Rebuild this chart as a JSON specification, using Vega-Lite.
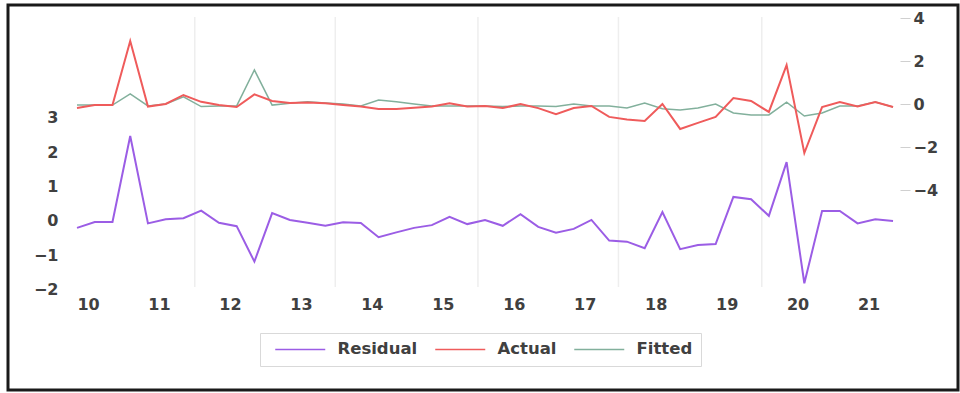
{
  "$schema": "https://vega.github.io/schema/vega-lite/v6.json",
  "width": 950,
  "height": 385,
  "autosize": {"type": "none"},
  "padding": {"left": 8, "top": 5, "right": 2, "bottom": 3},
  "background": "white",
  "config": {
    "view": {"stroke": "#1a1a1a", "strokeWidth": 3},
    "axis": {"labelFont": "DejaVu Sans", "labelFontWeight": "bold", "labelColor": "#404040", "labelFontSize": 16, "grid": false, "domain": false, "title": null},
    "legend": {"orient": "none", "legendX": 252, "legendY": 328, "direction": "horizontal", "strokeColor": "#d9d9d9", "padding": 8, "symbolType": "M-0.2,0H9.8", "symbolSize": 100, "symbolStrokeWidth": 1.5, "labelFont": "DejaVu Sans", "labelFontSize": 16.5, "labelFontWeight": "bold", "labelColor": "#404040", "columnPadding": 10, "labelOffset": 53}
  },
  "data": {"values": [
    {"t": 2010.00, "resid": -0.20, "actual": -0.19, "fitted": -0.05},
    {"t": 2010.25, "resid": -0.03, "actual": -0.05, "fitted": -0.05},
    {"t": 2010.50, "resid": -0.03, "actual": -0.05, "fitted": -0.05},
    {"t": 2010.75, "resid": 2.47, "actual": 2.93, "fitted": 0.47},
    {"t": 2011.00, "resid": -0.07, "actual": -0.12, "fitted": -0.09},
    {"t": 2011.25, "resid": 0.05, "actual": 0.00, "fitted": 0.00},
    {"t": 2011.50, "resid": 0.08, "actual": 0.42, "fitted": 0.33},
    {"t": 2011.75, "resid": 0.30, "actual": 0.10, "fitted": -0.12},
    {"t": 2012.00, "resid": -0.05, "actual": -0.05, "fitted": -0.09},
    {"t": 2012.25, "resid": -0.15, "actual": -0.14, "fitted": -0.09},
    {"t": 2012.50, "resid": -1.18, "actual": 0.45, "fitted": 1.58},
    {"t": 2012.75, "resid": 0.23, "actual": 0.14, "fitted": -0.05},
    {"t": 2013.00, "resid": 0.03, "actual": 0.05, "fitted": 0.03},
    {"t": 2013.25, "resid": -0.05, "actual": 0.07, "fitted": 0.10},
    {"t": 2013.50, "resid": -0.14, "actual": 0.03, "fitted": 0.05},
    {"t": 2013.75, "resid": -0.04, "actual": -0.05, "fitted": 0.00},
    {"t": 2014.00, "resid": -0.06, "actual": -0.12, "fitted": -0.09},
    {"t": 2014.25, "resid": -0.47, "actual": -0.23, "fitted": 0.19},
    {"t": 2014.50, "resid": -0.33, "actual": -0.23, "fitted": 0.10},
    {"t": 2014.75, "resid": -0.20, "actual": -0.17, "fitted": 0.00},
    {"t": 2015.00, "resid": -0.12, "actual": -0.12, "fitted": -0.09},
    {"t": 2015.25, "resid": 0.12, "actual": 0.03, "fitted": -0.09},
    {"t": 2015.50, "resid": -0.09, "actual": -0.12, "fitted": -0.09},
    {"t": 2015.75, "resid": 0.03, "actual": -0.09, "fitted": -0.09},
    {"t": 2016.00, "resid": -0.14, "actual": -0.19, "fitted": -0.12},
    {"t": 2016.25, "resid": 0.20, "actual": 0.00, "fitted": -0.09},
    {"t": 2016.50, "resid": -0.17, "actual": -0.19, "fitted": -0.09},
    {"t": 2016.75, "resid": -0.34, "actual": -0.47, "fitted": -0.12},
    {"t": 2017.00, "resid": -0.23, "actual": -0.19, "fitted": 0.00},
    {"t": 2017.25, "resid": 0.03, "actual": -0.09, "fitted": -0.09},
    {"t": 2017.50, "resid": -0.57, "actual": -0.60, "fitted": -0.09},
    {"t": 2017.75, "resid": -0.60, "actual": -0.72, "fitted": -0.18},
    {"t": 2018.00, "resid": -0.79, "actual": -0.79, "fitted": 0.05},
    {"t": 2018.25, "resid": 0.26, "actual": 0.00, "fitted": -0.22},
    {"t": 2018.50, "resid": -0.82, "actual": -1.16, "fitted": -0.28},
    {"t": 2018.75, "resid": -0.70, "actual": -0.88, "fitted": -0.19},
    {"t": 2019.00, "resid": -0.67, "actual": -0.60, "fitted": 0.00},
    {"t": 2019.25, "resid": 0.70, "actual": 0.28, "fitted": -0.42},
    {"t": 2019.50, "resid": 0.63, "actual": 0.14, "fitted": -0.51},
    {"t": 2019.75, "resid": 0.15, "actual": -0.37, "fitted": -0.51},
    {"t": 2020.00, "resid": 1.71, "actual": 1.81, "fitted": 0.09},
    {"t": 2020.25, "resid": -1.81, "actual": -2.28, "fitted": -0.56},
    {"t": 2020.50, "resid": 0.29, "actual": -0.14, "fitted": -0.42},
    {"t": 2020.75, "resid": 0.29, "actual": 0.09, "fitted": -0.09},
    {"t": 2021.00, "resid": -0.07, "actual": -0.12, "fitted": -0.09},
    {"t": 2021.25, "resid": 0.05, "actual": 0.09, "fitted": 0.09},
    {"t": 2021.50, "resid": 0.00, "actual": -0.14, "fitted": -0.14}
  ]},
  "encoding": {
    "x": {"field": "t", "type": "quantitative",
      "scale": {"domain": [2009.0276, 2022.4155], "nice": false, "zero": false},
      "axis": {"orient": "bottom", "offset": -95, "values": [2010, 2011, 2012, 2013, 2014, 2015, 2016, 2017, 2018, 2019, 2020, 2021], "labelExpr": "format(datum.value - 2000, 'd')", "labelOffset": 11, "ticks": false, "tickSize": 0, "labelPadding": 1}}
  },
  "layer": [
    {
      "layer": [
        {
          "data": {"values": [{"g": 2011.66}, {"g": 2013.64}, {"g": 2015.65}, {"g": 2017.63}, {"g": 2019.65}]},
          "mark": {"type": "rule", "color": "#eeeeee", "strokeWidth": 1.5},
          "encoding": {
            "x": {"field": "g", "type": "quantitative"},
            "y": {"datum": 5.93, "type": "quantitative", "scale": {"domain": [-4.913, 6.279], "nice": false, "zero": false},
              "axis": {"orient": "left", "offset": -50, "values": [-2, -1, 0, 1, 2, 3], "ticks": false, "tickSize": 0, "labelPadding": 0}},
            "y2": {"datum": -1.92}
          }
        },
        {
          "data": {"values": [{"se": 0.66}, {"se": 0}, {"se": -0.67}]},
          "mark": {"type": "rule", "color": "#d6d6d6", "strokeWidth": 1},
          "encoding": {
            "x": {"datum": 2009.873, "type": "quantitative"},
            "x2": {"datum": 2021.556},
            "y": {"field": "se", "type": "quantitative"}
          }
        },
        {
          "mark": {"type": "line", "strokeWidth": 2},
          "encoding": {
            "y": {"field": "resid", "type": "quantitative"},
            "color": {"datum": "Residual", "type": "nominal",
              "scale": {"domain": ["Residual", "Actual", "Fitted"], "range": ["#9b5de5", "#ef5b5b", "#82b09c"]},
              "legend": {"title": null}}
          }
        }
      ]
    },
    {
      "layer": [
        {
          "mark": {"type": "line", "strokeWidth": 1.5},
          "encoding": {
            "y": {"field": "fitted", "type": "quantitative", "scale": {"domain": [-13.302, 4.605], "nice": false, "zero": false},
              "axis": {"orient": "right", "offset": -58, "values": [-4, -2, 0, 2, 4], "ticks": true, "tickSize": 10, "tickColor": "#d0d0d0", "labelPadding": 3}},
            "color": {"datum": "Fitted", "type": "nominal"}
          }
        },
        {
          "mark": {"type": "line", "strokeWidth": 2},
          "encoding": {
            "y": {"field": "actual", "type": "quantitative"},
            "color": {"datum": "Actual", "type": "nominal"}
          }
        }
      ]
    }
  ],
  "resolve": {"scale": {"y": "independent"}}
}
